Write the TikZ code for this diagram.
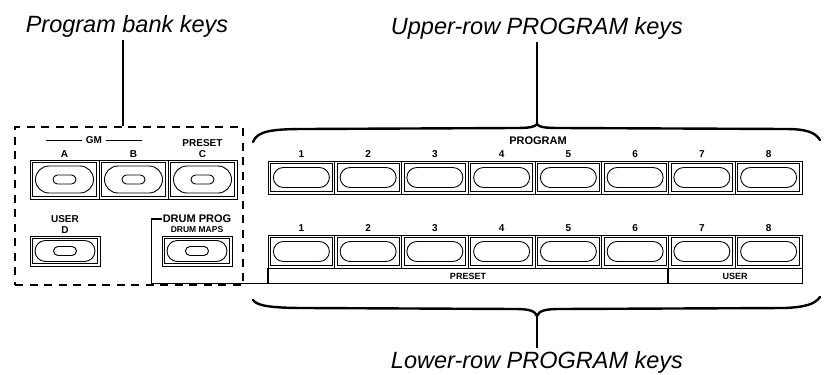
\documentclass[tikz,border=0pt]{standalone}
\usepackage{fontspec}
\setmainfont{Liberation Sans}
\usetikzlibrary{positioning, shapes.misc}

\begin{document}
\begin{tikzpicture}[
    x=1pt, y=-1pt,
    callout/.style={font=\fontsize{23.5}{26}\selectfont\itshape, inner sep=3pt},
    tag/.style={font=\fontsize{10}{11}\selectfont\bfseries, inner sep=0pt},
    keybox/.style={draw, line width=0.8pt, minimum width=#1, minimum height=33pt, inner sep=0pt,
        path picture={\draw[line width=0.6pt] ([shift={(2.5pt,-2.5pt)}]path picture bounding box.north west)
            rectangle ([shift={(-2.5pt,2.5pt)}]path picture bounding box.south east);}},
    keybox/.default=66.75pt,
    keypill/.style={draw, line width=0.9pt, rounded rectangle, inner sep=0pt},
    bankframe/.style={draw, line width=2.2pt, dash pattern=on 8pt off 6.5pt, minimum width=228pt, minimum height=158pt},
    lead/.style={line width=1.4pt},
    brace/.style={line width=2.4pt, line cap=round},
    bar/.style={line width=1.8pt}
]
    \useasboundingbox (0,0) rectangle (828,375);

    \node[callout] (banklbl) at (127,26) {Program bank keys};
    \node[callout] (uplbl) at (537,28) {Upper-row PROGRAM keys};
    \node[callout] (lowlbl) at (537,362) {Lower-row PROGRAM keys};

    \node[bankframe] (bank) at (129,206) {};
    \draw[lead] (banklbl.south -| 123,0) -- (bank.north -| 123,0);

    \foreach \n/\x in {A/64.5, B/133.5, C/202.5} {
        \node[keybox=69pt, minimum height=39pt] (k\n) at (\x,179.5) {};
        \node[keypill, minimum width=58pt, minimum height=27pt] at (k\n) {};
        \node[keypill, minimum width=23pt, minimum height=9pt] at (k\n) {};
        \node[tag, above=1.5pt of k\n] (lbl\n) {\n};
    }
    \node[tag, above=4pt of lblC] (preset) {PRESET};
    \node[tag] (gm) at (94,140) {GM};
    \draw[line width=0.9pt] (gm.west) ++(-4pt,0) -- ++(-36pt,0);
    \draw[line width=0.9pt] (gm.east) ++(4pt,0) -- ++(36pt,0);

    \node[keybox=70pt, minimum height=30pt] (kD) at (65,251) {};
    \node[keypill, minimum width=60pt, minimum height=21pt] at (kD) {};
    \node[keypill, minimum width=23pt, minimum height=9pt] at (kD) {};
    \node[tag, above=2pt of kD] (lblD) {D};
    \node[tag, above=4pt of lblD] {USER};

    \node[keybox=70pt, minimum height=30pt] (kdrum) at (197,251) {};
    \node[keypill, minimum width=60pt, minimum height=21pt] at (kdrum) {};
    \node[keypill, minimum width=23pt, minimum height=9pt] at (kdrum) {};
    \node[tag, font=\fontsize{8.5}{9}\selectfont\bfseries, above=3pt of kdrum] (maps) {DRUM MAPS};
    \node[tag, font=\fontsize{11}{12}\selectfont\bfseries, above=3pt of maps] (drumlbl) {DRUM PROG};

    \node[tag, font=\fontsize{11}{12}\selectfont\bfseries] (program) at (538,141) {PROGRAM};
    \foreach \i in {1,...,8} {
        \node[keybox] (u\i) at (268+66.75*\i-33.375,177.5) {};
        \node[keypill, minimum width=56pt, minimum height=20pt] at (u\i) {};
        \node[tag, above=3pt of u\i] {\i};
        \node[keybox] (l\i) at (268+66.75*\i-33.375,251.5) {};
        \node[keypill, minimum width=56pt, minimum height=20pt] at (l\i) {};
        \node[tag, above=3pt of l\i] {\i};
    }

    \draw[bar] ([xshift=-1pt]drumlbl.west) -- ++(-10pt,0) |- ([yshift=-15pt]l8.south east) -- (l8.south east);
    \foreach \k in {1,7}
        \draw[bar] (l\k.south west) -- ++(0,-15pt);
    \node[tag, font=\fontsize{9}{10}\selectfont\bfseries] at (468,276) {PRESET};
    \node[tag, font=\fontsize{9}{10}\selectfont\bfseries] at (735,276) {USER};

    \coordinate (uptip) at (537,124);
    \coordinate (lowtip) at (537,316);
    \draw[brace] (253,142) .. controls (257,131) and (272,129) .. (305,129) -- (515,128)
        .. controls (530,128) and (535,127) .. (uptip)
        .. controls (539,127) and (544,128) .. (560,128) -- (785,129)
        .. controls (806,129) and (815,132) .. (820,140);
    \draw[brace] (253,300) .. controls (257,306) and (272,308) .. (305,308) -- (515,309)
        .. controls (530,309) and (535,311) .. (lowtip)
        .. controls (539,311) and (544,309) .. (560,309) -- (785,308)
        .. controls (806,307) and (815,304) .. (820,297);
    \draw[lead] (uplbl) -- (uptip);
    \draw[lead] (lowtip) -- (lowlbl);
\end{tikzpicture}
\end{document}
